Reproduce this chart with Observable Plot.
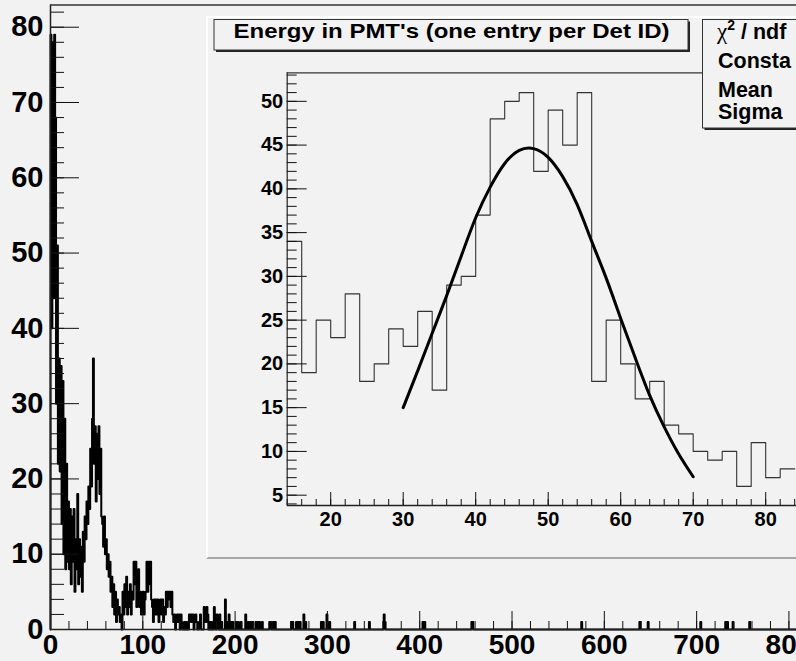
<!DOCTYPE html>
<html><head><meta charset="utf-8">
<script src="https://cdn.jsdelivr.net/npm/d3@7"></script>
<script src="https://cdn.jsdelivr.net/npm/@observablehq/plot@0.6"></script>
<style>
html,body{margin:0;padding:0;background:#f2f2f2;overflow:hidden;}
#wrap{position:relative;width:796px;height:661px;overflow:hidden;background:#f2f2f2;font-family:"Liberation Sans",Arial,Helvetica,sans-serif;}
#main{position:absolute;left:0;top:0;}
#pad{position:absolute;left:206px;top:16px;width:600px;height:543px;box-sizing:border-box;border-left:2px solid #fff;border-top:2px solid #fff;border-bottom:2px solid #a8a8a8;background:#f2f2f2;overflow:hidden;}
#inset{position:absolute;left:0;top:0;}
#overlay{position:absolute;left:0;top:0;pointer-events:none;}
svg{display:block;}
</style></head>
<body><div id="wrap"><div id="main"></div><div id="pad"><div id="inset"></div></div><svg id="overlay" width="796" height="661"></svg></div>
<script>
// ---------- main histogram (1-unit bins) ----------
const mainBinWidth = 1;
const mainCounts = [79,40,78,44,79,68,30,51,22,36,21,35,14,33,10,28,8,22,9,17,
  8,16,6,15,9,16,5,12,8,18,6,12,7,11,5,13,9,15,12,17,
  14,19,16,24,19,28,36,22,27,17,26,20,27,18,24,15,14,11,15,10,
  12,8,10,7,9,5,7,3,6,2,5,1,4,2,3,1,2,0,5,2,
  6,3,7,2,5,3,6,2,5,4,9,6,9,3,5,8,3,5,2,4,
  5,2,4,5,9,5,9,6,9,4,3,1,4,2,4,2,4,1,3,4,
  2,4,1,3,2,5,3,5,4,5,3,5,2,1,2,0];
const mainTail = [[136,1],[137,2],[138,1],[139,2],[141,2],[142,1],[145,1],[147,1],[150,2],[151,2],
  [152,1],[153,2],[154,2],[156,1],[157,2],[158,1],[161,1],[162,2],[166,3],[167,2],[168,1],[169,3],
  [170,2],[172,1],[174,1],[177,3],[178,1],[180,2],[181,1],[183,2],[185,1],[189,4],[191,1],[193,2],
  [195,1],[197,1],[201,1],[203,1],[206,1],[211,2],[214,1],[216,1],[218,1],[222,1],[224,1],[226,1],
  [229,1],[237,1],[238,1],[241,1],[243,1],[261,1],[262,1],[266,1],[268,1],[270,1],[274,2],[276,1],
  [293,1],[295,1],[299,2],[302,1],[329,1],[345,1],[361,2],[362,1],[403,1],[405,1],[456,1],[457,1],
  [575,1],[638,1],[647,1],[704,1],[731,1],[733,1],[739,1],[757,1]];
const mainXTicks = [0,100,200,300,400,500,600,700,800];
const mainYTicks = [0,10,20,30,40,50,60,70,80];
const mainXMax = 808.2, mainYMax = 82.95;

// ---------- inset histogram (2-unit bins starting at 14) ----------
const insetBinStart = 14, insetBinWidth = 2;
const insetCounts = [34,19,25,23,28,18,20,24,22,26,17,29,30,37,48,50,51,42,49,45,51,18,25,20,16,18,13,12,10,9,10,6,11,7,8];
const insetXTicks = [20,30,40,50,60,70,80];
const insetYTicks = [5,10,15,20,25,30,35,40,45,50];
const insetXDomain = [14, 84.25], insetYDomain = [3.82, 53.26];
// Gaussian fit curve
const fitX = [30,32,34,36,38,40,42,44,46,48,50,52,54,56,58,60,62,64,66,68,70];
const fitY = [15.0,19.2,23.5,27.8,32.3,36.7,40.2,42.9,44.4,44.6,43.6,41.4,38.2,34.0,29.8,25.2,20.7,16.4,12.8,9.7,7.1];

const title = "Energy in PMT's (one entry per Det ID)";
const statsLabels = ["Consta", "Mean", "Sigma"];

// ---------- main plot ----------
const font = "'Liberation Sans', Arial, Helvetica, sans-serif";
const mW = 796, mH = 661, mL = 50, mT = 4.5, mB = 32, mR = 0;
const mInnerW = mW - mL - mR, mInnerH = mH - mT - mB;
const nMain = Math.ceil(mainXMax / mainBinWidth);
const fullMain = new Array(nMain).fill(0);
mainCounts.forEach((c, i) => fullMain[i] = c);
mainTail.forEach(([b, c]) => fullMain[b] = c);
const mainPts = [{x: 0, y: 0}].concat(fullMain.map((c, i) => ({x: i * mainBinWidth, y: c})));
mainPts.push({x: nMain * mainBinWidth, y: fullMain[nMain - 1]});
const mainXMinor = d3.range(0, mainXMax, 20);
const mainYMinor = d3.range(0, mainYMax, 2);

const mainPlot = Plot.plot({
  width: mW, height: mH, marginLeft: mL, marginTop: mT, marginBottom: mB, marginRight: mR,
  style: {background: "transparent", color: "#000", fontFamily: font, overflow: "hidden"},
  x: {type: "linear", domain: [0, mainXMax]},
  y: {type: "linear", domain: [0, mainYMax]},
  marks: [
    Plot.line(mainPts, {x: "x", y: "y", curve: "step-after", stroke: "#000", strokeWidth: 2}),
    Plot.ruleX(mainXMinor, {stroke: "#111", strokeWidth: 1, insetTop: mInnerH - 8}),
    Plot.ruleX(mainXTicks, {stroke: "#111", strokeWidth: 1, insetTop: mInnerH - 18}),
    Plot.ruleY(mainYMinor, {stroke: "#111", strokeWidth: 1, insetRight: mInnerW - 14}),
    Plot.ruleY(mainYTicks, {stroke: "#111", strokeWidth: 1, insetRight: mInnerW - 29}),
    Plot.ruleX([0], {stroke: "#222", strokeWidth: 1.5}),
    Plot.ruleY([0], {stroke: "#222", strokeWidth: 1.5}),
    Plot.ruleY([mainYMax], {stroke: "#333", strokeWidth: 1.5}),
    Plot.axisX(mainXTicks, {anchor: "bottom", tickSize: 0, tickPadding: 5, fontSize: 28, fontWeight: "bold", label: null, tickFormat: d => String(d)}),
    Plot.axisY(mainYTicks, {anchor: "left", tickSize: 0, tickPadding: 7, fontSize: 29, fontWeight: "bold", label: null, tickFormat: d => String(d)})
  ]
});
document.getElementById("main").appendChild(mainPlot);

// ---------- inset plot ----------
const iW = 588, iH = 539, iL = 78.7, iT = 54.3, iB = 52, iR = 0;
const iInnerW = iW - iL - iR, iInnerH = iH - iT - iB;
const insetPts = insetCounts.map((c, i) => ({x: insetBinStart + i * insetBinWidth, y: c}));
insetPts.push({x: insetBinStart + insetCounts.length * insetBinWidth, y: insetCounts[insetCounts.length - 1]});
const fitPts = fitX.map((x, i) => ({x, y: fitY[i]}));
const insetXMinor = d3.range(14, 85, 2);
const insetYMinor = d3.range(4, 54, 1);

const insetPlot = Plot.plot({
  width: iW, height: iH, marginLeft: iL, marginTop: iT, marginBottom: iB, marginRight: iR,
  style: {background: "transparent", color: "#000", fontFamily: font, overflow: "hidden"},
  x: {type: "linear", domain: insetXDomain},
  y: {type: "linear", domain: insetYDomain},
  marks: [
    Plot.line(insetPts, {x: "x", y: "y", curve: "step-after", stroke: "#333", strokeWidth: 1.1}),
    Plot.line(fitPts, {x: "x", y: "y", curve: "natural", stroke: "#000", strokeWidth: 3}),
    Plot.ruleX(insetXMinor, {stroke: "#111", strokeWidth: 1, insetTop: iInnerH - 6}),
    Plot.ruleX(insetXTicks, {stroke: "#111", strokeWidth: 1, insetTop: iInnerH - 13}),
    Plot.ruleY(insetYMinor, {stroke: "#111", strokeWidth: 1, insetRight: iInnerW - 10}),
    Plot.ruleY(insetYTicks, {stroke: "#111", strokeWidth: 1, insetRight: iInnerW - 20}),
    Plot.ruleX([insetXDomain[0]], {stroke: "#222", strokeWidth: 1.2}),
    Plot.ruleY([insetYDomain[0]], {stroke: "#222", strokeWidth: 1.5}),
    Plot.ruleY([insetYDomain[1]], {stroke: "#333", strokeWidth: 1.2}),
    Plot.axisX(insetXTicks, {anchor: "bottom", tickSize: 0, tickPadding: 6.5, fontSize: 20, fontWeight: "bold", label: null, tickFormat: d => String(d)}),
    Plot.axisY(insetYTicks, {anchor: "left", tickSize: 0, tickPadding: 4, fontSize: 20, fontWeight: "bold", label: null, tickFormat: d => String(d)})
  ]
});
document.getElementById("inset").appendChild(insetPlot);

// ---------- title and stats boxes ----------
const ov = d3.select("#overlay");
function box(x, y, w, h) {
  ov.append("rect").attr("x", x + 2).attr("y", y + 2).attr("width", w).attr("height", h).attr("fill", "#222");
  ov.append("rect").attr("x", x).attr("y", y).attr("width", w).attr("height", h)
    .attr("fill", "#f2f2f2").attr("stroke", "#333").attr("stroke-width", 1);
}
box(214, 19.5, 474, 30.5);
box(702.5, 19.5, 200, 108.5);
ov.append("text").attr("x", 451.5).attr("y", 37.5).attr("text-anchor", "middle")
  .attr("font-family", font).attr("font-weight", "bold").attr("font-size", 20.5)
  .attr("textLength", 436).attr("lengthAdjust", "spacingAndGlyphs").attr("fill", "#000").text(title);
const chi = ov.append("text").attr("x", 717).attr("y", 39).attr("font-family", font)
  .attr("font-weight", "bold").attr("font-size", 21.5).attr("fill", "#000");
chi.append("tspan").attr("font-family", "'Liberation Serif', 'DejaVu Serif', serif").attr("font-weight", "normal").attr("font-size", 23).text("χ");
chi.append("tspan").attr("font-size", 14).attr("dy", -9).text("2");
chi.append("tspan").attr("dy", 9).text(" / ndf");
const baselines = [68.3, 96.7, 119.3];
statsLabels.forEach((s, i) => {
  ov.append("text").attr("x", 718).attr("y", baselines[i]).attr("font-family", font)
    .attr("font-weight", "bold").attr("font-size", 21.5).attr("fill", "#000").text(s);
});
</script></body></html>
